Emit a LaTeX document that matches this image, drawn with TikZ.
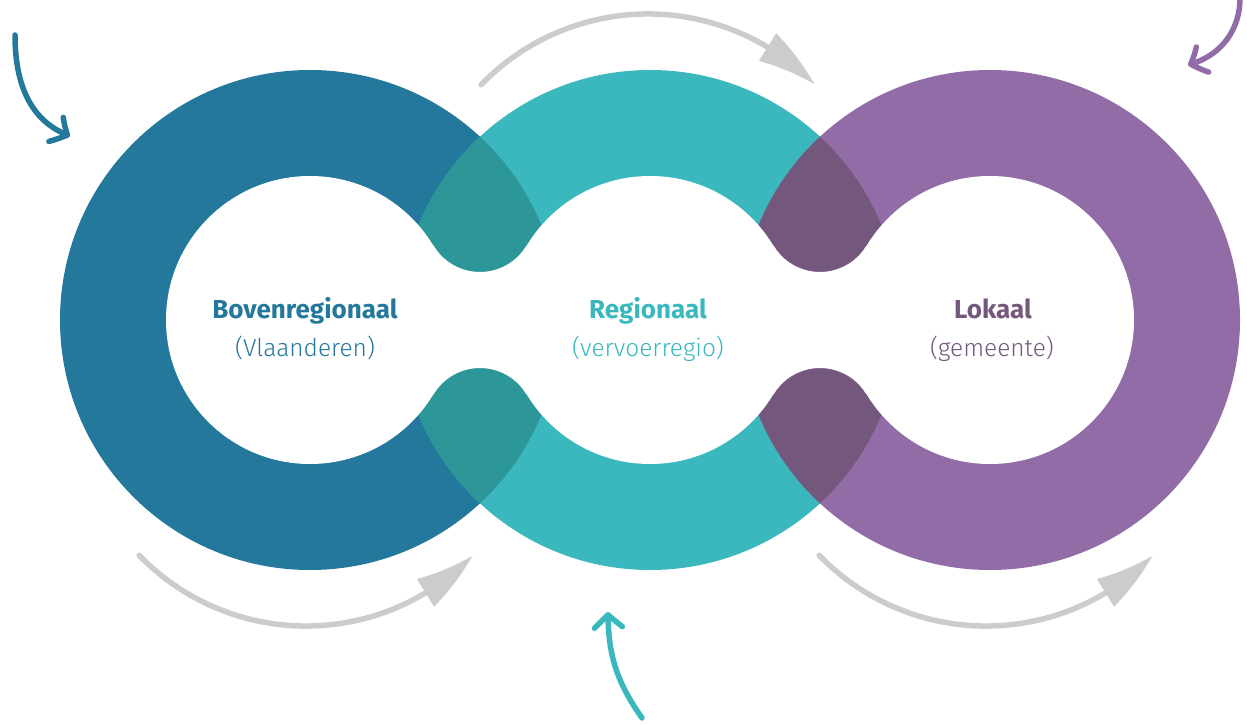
\documentclass[tikz,border=0pt]{standalone}
\usepackage{fontspec}
\setmainfont{Fira Sans}
\newfontfamily\lightfont{Fira Sans Light}
\usetikzlibrary{arrows.meta, bending, calc}

\definecolor{ringBlue}{RGB}{36,120,155}
\definecolor{ringTeal}{RGB}{58,184,190}
\definecolor{ringPurple}{RGB}{146,108,166}
\definecolor{overlapTeal}{RGB}{44,150,153}
\definecolor{overlapPurple}{RGB}{116,87,124}
\definecolor{arrowGray}{RGB}{204,204,204}

\begin{document}
\begin{tikzpicture}[x=1pt, y=1pt,
    flow/.style={draw=arrowGray, line width=5.5pt, line cap=round, -{Triangle[length=61pt, width=31pt, bend]}},
    pointer/.style={line width=5.5pt, line cap=round, -{Straight Barb[length=13pt, width=28pt, round, bend]}},
    title/.style={anchor=base, font=\bfseries\fontsize{26}{30}\selectfont},
    sub/.style={anchor=base, font=\lightfont\fontsize{24.5}{28}\selectfont}
]
    \useasboundingbox (0,0) rectangle (1247,724);

    % Ring centres
    \coordinate (bov) at (310,404);
    \coordinate (reg) at (650,404);
    \coordinate (lok) at (990,404);

    % Outer discs
    \fill[ringBlue] (bov) circle[radius=250];
    \fill[ringTeal] (reg) circle[radius=250];
    \fill[ringPurple] (lok) circle[radius=250];

    % Overlaps
    \begin{scope}
        \clip (bov) circle[radius=250];
        \fill[overlapTeal] (reg) circle[radius=250];
    \end{scope}
    \begin{scope}
        \clip (reg) circle[radius=250];
        \fill[overlapPurple] (lok) circle[radius=250];
    \end{scope}

    % Holes, joined by rounded necks (fillet radius 54)
    \fill[white] (bov) circle[radius=144] (reg) circle[radius=144] (lok) circle[radius=144];
    \fill[white] (bov) -- ($(480,506)+(211:54)$) arc[start angle=211, end angle=329, radius=54]
        -- (reg) -- ($(480,302)+(31:54)$) arc[start angle=31, end angle=149, radius=54] -- cycle;
    \fill[white] (reg) -- ($(820,506)+(211:54)$) arc[start angle=211, end angle=329, radius=54]
        -- (lok) -- ($(820,302)+(31:54)$) arc[start angle=31, end angle=149, radius=54] -- cycle;

    % Labels
    \node[title, text=ringBlue] (bovTitle) at (305,406) {Bovenregionaal};
    \node[sub, text=ringBlue] (bovSub) at (305,368) {(Vlaanderen)};
    \node[title, text=ringTeal] (regTitle) at (648,406) {Regionaal};
    \node[sub, text=ringTeal] (regSub) at (648,368) {(vervoerregio)};
    \node[title, text=overlapPurple] (lokTitle) at (993,406) {Lokaal};
    \node[sub, text=overlapPurple] (lokSub) at (992,368) {(gemeente)};

    % Grey flow arrows
    \coordinate (topStart) at (481.1,639.2);
    \coordinate (leftStart) at (139.1,168.8);
    \coordinate (rightStart) at (819.1,168.8);
    \draw[flow] (topStart) arc[start angle=136, end angle=44, radius=232];
    \draw[flow] (leftStart) arc[start angle=224, end angle=316, radius=232];
    \draw[flow] (rightStart) arc[start angle=224, end angle=316, radius=232];

    % Small pointers
    \coordinate (bovFrom) at (15,689);
    \coordinate (bovTo) at (70,588);
    \coordinate (lokFrom) at (1240,726);
    \coordinate (lokTo) at (1188,659);
    \coordinate (regFrom) at (642,6);
    \coordinate (regTo) at (608,112);
    \draw[pointer, ringBlue] (bovFrom) to[out=-90, in=160] (bovTo);
    \draw[pointer, ringPurple] (lokFrom) to[out=-90, in=15] (lokTo);
    \draw[pointer, ringTeal] (regFrom) to[out=125, in=-90] (regTo);
\end{tikzpicture}
\end{document}
